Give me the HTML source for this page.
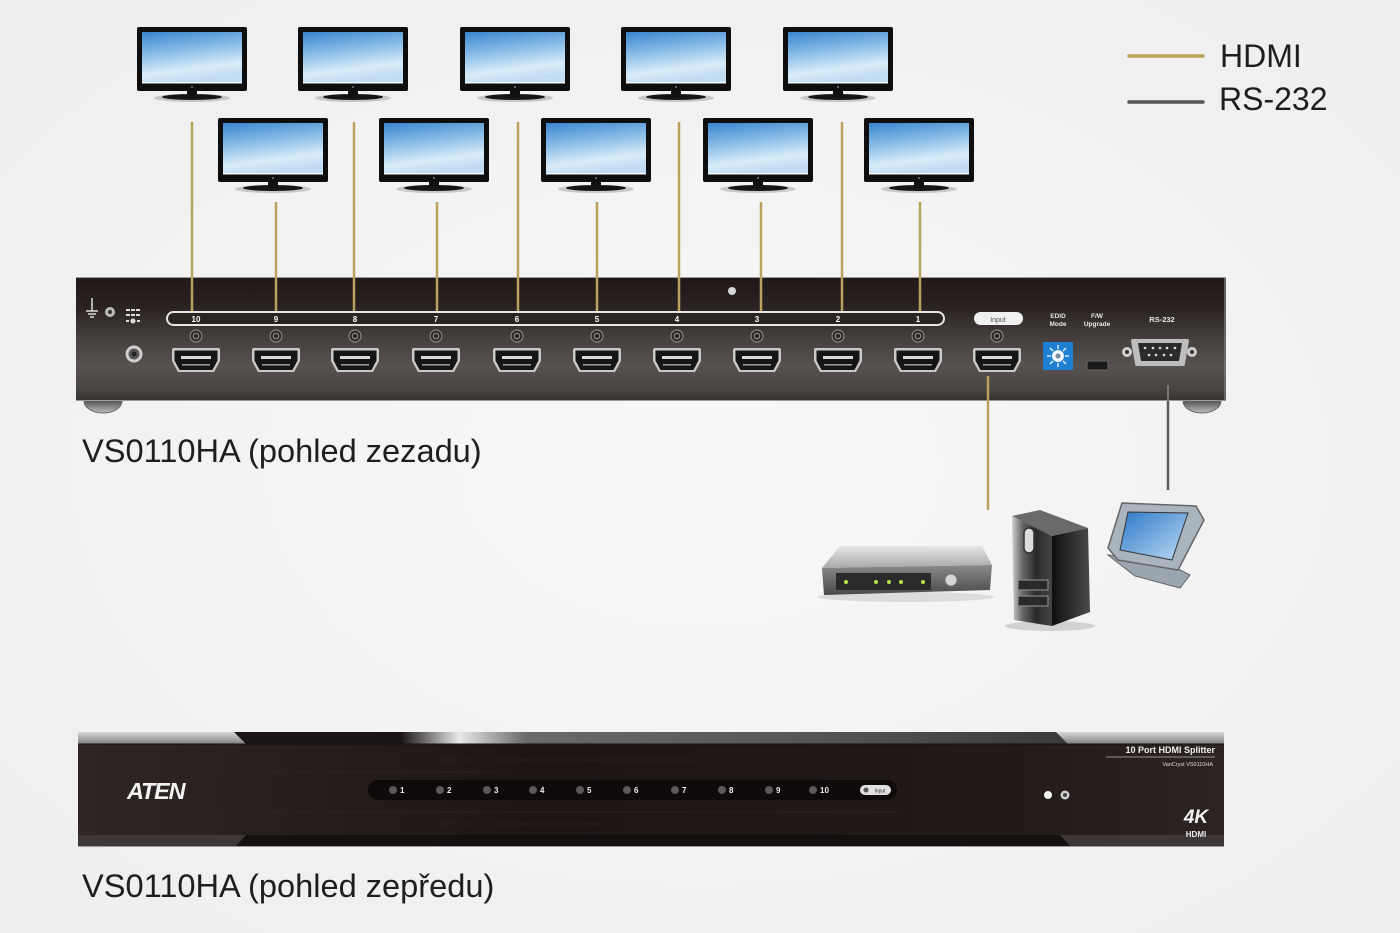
<!DOCTYPE html>
<html><head><meta charset="utf-8"><style>
html,body{margin:0;padding:0;width:1400px;height:933px;overflow:hidden;background:#f2f2f2}
svg{display:block}
</style></head><body>
<svg width="1400" height="933" viewBox="0 0 1400 933" xmlns="http://www.w3.org/2000/svg" font-family="'Liberation Sans', Arial, sans-serif">
<defs>
<radialGradient id="bg" cx="0.5" cy="0.5" r="0.75"><stop offset="0" stop-color="#f8f8f8"/><stop offset="1" stop-color="#ededed"/></radialGradient>
<linearGradient id="scr" x1="0" y1="0" x2="0.25" y2="1"><stop offset="0" stop-color="#3a85cf"/><stop offset="0.45" stop-color="#8dbfe8"/><stop offset="0.8" stop-color="#d9ecf9"/><stop offset="1" stop-color="#c2ddf3"/></linearGradient>
<linearGradient id="rear" x1="0" y1="0" x2="0" y2="1">
 <stop offset="0" stop-color="#1f1817"/><stop offset="0.25" stop-color="#2a2321"/><stop offset="0.5" stop-color="#45403e"/><stop offset="0.72" stop-color="#57524f"/><stop offset="0.9" stop-color="#4a4644"/><stop offset="1" stop-color="#353130"/></linearGradient>
<linearGradient id="front" x1="0" y1="0" x2="1" y2="0">
 <stop offset="0" stop-color="#2f2624"/><stop offset="0.4" stop-color="#1d1615"/><stop offset="0.8" stop-color="#221a19"/><stop offset="1" stop-color="#2c2422"/></linearGradient>
<linearGradient id="topstrip" x1="0" y1="0" x2="0" y2="1"><stop offset="0" stop-color="#d8d8d8"/><stop offset="1" stop-color="#7a7a7a"/></linearGradient>
<linearGradient id="midstrip" x1="0" y1="0" x2="1" y2="0">
 <stop offset="0" stop-color="#1a1414"/><stop offset="0.2" stop-color="#1a1414"/><stop offset="0.27" stop-color="#e8e8e8"/><stop offset="0.35" stop-color="#6a6a6a"/><stop offset="0.7" stop-color="#555"/><stop offset="1" stop-color="#3a3a3a"/></linearGradient>
<linearGradient id="foot" x1="0" y1="0" x2="0" y2="1"><stop offset="0" stop-color="#555"/><stop offset="1" stop-color="#bdbdbd"/></linearGradient>
<linearGradient id="stbTop" x1="0" y1="0" x2="0" y2="1"><stop offset="0" stop-color="#e6e6e6"/><stop offset="1" stop-color="#a9a9a9"/></linearGradient>
<linearGradient id="stbFront" x1="0" y1="0" x2="0" y2="1"><stop offset="0" stop-color="#8a8a8a"/><stop offset="1" stop-color="#4a4a4a"/></linearGradient>
<linearGradient id="twFront" x1="0" y1="0" x2="1" y2="0"><stop offset="0" stop-color="#d0d0d0"/><stop offset="0.25" stop-color="#6a6a6a"/><stop offset="0.6" stop-color="#2a2a2a"/><stop offset="1" stop-color="#444"/></linearGradient>
<linearGradient id="twSide" x1="0" y1="0" x2="1" y2="0"><stop offset="0" stop-color="#0f0f0f"/><stop offset="1" stop-color="#4a4a4a"/></linearGradient>
<linearGradient id="tabScr" x1="0" y1="0" x2="1" y2="1"><stop offset="0" stop-color="#2f78c8"/><stop offset="1" stop-color="#bcdcf4"/></linearGradient>
<g id="mon">
 <ellipse cx="55" cy="71" rx="38" ry="4" fill="#777" opacity="0.35"/>
 <ellipse cx="55" cy="70" rx="30" ry="3" fill="#151515"/>
 <rect x="50" y="62" width="10" height="8" fill="#111"/>
 <rect x="0" y="0" width="110" height="64" rx="2" fill="#0e0e0e"/>
 <rect x="5" y="5" width="100" height="51" fill="url(#scr)"/>
 <rect x="5" y="55" width="100" height="1.5" fill="#f4f9fd"/>
 <circle cx="55" cy="60" r="1" fill="#777"/>
</g>
<g id="port">
 <path d="M-24,-10 Q-24,-12 -22,-12 H22 Q24,-12 24,-10 V1 L18,12 H-18 L-24,1 Z" fill="#c9c9c9"/>
 <path d="M-21.5,-9.5 H21.5 V0.5 L16.5,10 H-16.5 L-21.5,0.5 Z" fill="#151515"/>
 <rect x="-15" y="-4" width="30" height="3" fill="#d8d8d8"/>
 <rect x="-14" y="4" width="28" height="1.6" fill="#9a9a9a"/>
</g>
<g id="screw">
 <circle r="6" fill="#2e2a29" stroke="#8a8685" stroke-width="1.2"/>
 <circle r="2.8" fill="none" stroke="#9a9695" stroke-width="1"/>
</g>
</defs>

<rect width="1400" height="933" fill="url(#bg)"/>

<!-- Legend -->
<line x1="1129" y1="56" x2="1203" y2="56" stroke="#b9a15e" stroke-width="3.5" stroke-linecap="round"/>
<line x1="1129" y1="102" x2="1203" y2="102" stroke="#555" stroke-width="3.5" stroke-linecap="round"/>
<text x="1220" y="67" font-size="32" fill="#1e1e1e">HDMI</text>
<text x="1219" y="110" font-size="32" fill="#1e1e1e">RS-232</text>

<!-- HDMI lines to monitors -->
<g stroke="#b9a15e" stroke-width="2.5">
 <line x1="192" y1="122" x2="192" y2="312"/>
 <line x1="354" y1="122" x2="354" y2="312"/>
 <line x1="518" y1="122" x2="518" y2="312"/>
 <line x1="679" y1="122" x2="679" y2="312"/>
 <line x1="842" y1="122" x2="842" y2="312"/>
 <line x1="276" y1="202" x2="276" y2="312"/>
 <line x1="437" y1="202" x2="437" y2="312"/>
 <line x1="597" y1="202" x2="597" y2="312"/>
 <line x1="761" y1="202" x2="761" y2="312"/>
 <line x1="920" y1="202" x2="920" y2="312"/>
 <line x1="988" y1="376" x2="988" y2="510"/>
</g>
<line x1="1168" y1="385" x2="1168" y2="490" stroke="#5a5a5a" stroke-width="2.5"/>

<!-- Monitors -->
<use href="#mon" x="137" y="27"/>
<use href="#mon" x="298" y="27"/>
<use href="#mon" x="460" y="27"/>
<use href="#mon" x="621" y="27"/>
<use href="#mon" x="783" y="27"/>
<use href="#mon" x="218" y="118"/>
<use href="#mon" x="379" y="118"/>
<use href="#mon" x="541" y="118"/>
<use href="#mon" x="703" y="118"/>
<use href="#mon" x="864" y="118"/>

<!-- Rear panel -->
<path d="M84,401 a19,12 0 0 0 38,0 Z" fill="url(#foot)" stroke="#666" stroke-width="1"/>
<path d="M1183,401 a19,12 0 0 0 38,0 Z" fill="url(#foot)" stroke="#666" stroke-width="1"/>
<rect x="76" y="277" width="1150" height="124" rx="2" fill="url(#rear)"/>
<line x1="76" y1="277.5" x2="1226" y2="277.5" stroke="#9a9a9a" stroke-width="1"/>
<line x1="76" y1="400.5" x2="1226" y2="400.5" stroke="#9a9a9a" stroke-width="1"/>
<line x1="1225" y1="278" x2="1225" y2="400" stroke="#777" stroke-width="1.5"/>
<g stroke="#b9a15e" stroke-width="2.5">
 <line x1="192" y1="277" x2="192" y2="312"/><line x1="276" y1="277" x2="276" y2="312"/>
 <line x1="354" y1="277" x2="354" y2="312"/><line x1="437" y1="277" x2="437" y2="312"/>
 <line x1="518" y1="277" x2="518" y2="312"/><line x1="597" y1="277" x2="597" y2="312"/>
 <line x1="679" y1="277" x2="679" y2="312"/><line x1="761" y1="277" x2="761" y2="312"/>
 <line x1="842" y1="277" x2="842" y2="312"/><line x1="920" y1="277" x2="920" y2="312"/>
 <line x1="988" y1="376" x2="988" y2="401"/>
</g>
<line x1="1168" y1="385" x2="1168" y2="401" stroke="#8a8a8a" stroke-width="1.5"/>

<!-- left icons -->
<g stroke="#ddd" stroke-width="1.5" fill="none">
 <line x1="92" y1="298" x2="92" y2="311"/>
 <line x1="86" y1="311" x2="98" y2="311"/>
 <line x1="88" y1="314" x2="96" y2="314"/>
 <line x1="90" y1="317" x2="94" y2="317"/>
</g>
<circle cx="110" cy="312" r="5" fill="#bbb"/><circle cx="110" cy="312" r="2" fill="#333"/>
<g fill="#ddd">
 <rect x="126" y="309" width="4" height="2"/><rect x="131" y="309" width="4" height="2"/><rect x="136" y="309" width="4" height="2"/>
 <rect x="126" y="314" width="4" height="2"/><rect x="131" y="314" width="4" height="2"/><rect x="136" y="314" width="4" height="2"/>
 <rect x="126" y="320" width="3" height="2"/><circle cx="133" cy="321" r="2.5"/><rect x="137" y="320" width="3" height="2"/>
</g>
<circle cx="134" cy="354" r="8.5" fill="#cfcfcf"/><circle cx="134" cy="354" r="5.5" fill="#5a5655"/><circle cx="134" cy="354" r="2.5" fill="#222"/>
<circle cx="732" cy="291" r="4" fill="#d8d8d8"/>

<!-- label bar -->
<rect x="167" y="312" width="777" height="13" rx="6.5" fill="#2a2523" stroke="#e6e6e6" stroke-width="2"/>
<g font-size="8" font-weight="bold" fill="#fff" text-anchor="middle">
 <text x="196" y="322">10</text><text x="276" y="322">9</text><text x="355" y="322">8</text>
 <text x="436" y="322">7</text><text x="517" y="322">6</text><text x="597" y="322">5</text>
 <text x="677" y="322">4</text><text x="757" y="322">3</text><text x="838" y="322">2</text>
 <text x="918" y="322">1</text>
</g>
<rect x="974" y="312" width="49" height="13" rx="6.5" fill="#f0f0f0"/>
<text x="998" y="322" font-size="7" fill="#555" text-anchor="middle">Input</text>

<!-- screws + ports -->
<use href="#screw" x="196" y="336"/><use href="#screw" x="276" y="336"/><use href="#screw" x="355" y="336"/>
<use href="#screw" x="436" y="336"/><use href="#screw" x="517" y="336"/><use href="#screw" x="597" y="336"/>
<use href="#screw" x="677" y="336"/><use href="#screw" x="757" y="336"/><use href="#screw" x="838" y="336"/>
<use href="#screw" x="918" y="336"/><use href="#screw" x="997" y="336"/>
<use href="#port" x="196" y="360"/><use href="#port" x="276" y="360"/><use href="#port" x="355" y="360"/>
<use href="#port" x="436" y="360"/><use href="#port" x="517" y="360"/><use href="#port" x="597" y="360"/>
<use href="#port" x="677" y="360"/><use href="#port" x="757" y="360"/><use href="#port" x="838" y="360"/>
<use href="#port" x="918" y="360"/><use href="#port" x="997" y="360"/>

<!-- EDID / FW / RS232 -->
<g font-size="6.5" font-weight="bold" fill="#e8e8e8" text-anchor="middle">
 <text x="1058" y="318">EDID</text><text x="1058" y="326">Mode</text>
 <text x="1097" y="318">F/W</text><text x="1097" y="326">Upgrade</text>
 <text x="1162" y="322" font-size="7.5">RS-232</text>
</g>
<rect x="1043" y="342" width="30" height="28" fill="#1f7fd1"/>
<circle cx="1058" cy="356" r="6" fill="#eef6fd"/>
<g stroke="#eef6fd" stroke-width="1.3">
 <line x1="1058" y1="345" x2="1058" y2="349"/><line x1="1058" y1="363" x2="1058" y2="367"/>
 <line x1="1047" y1="356" x2="1051" y2="356"/><line x1="1065" y1="356" x2="1069" y2="356"/>
 <line x1="1050" y1="348" x2="1053" y2="351"/><line x1="1063" y1="361" x2="1066" y2="364"/>
 <line x1="1066" y1="348" x2="1063" y2="351"/><line x1="1050" y1="364" x2="1053" y2="361"/>
</g>
<circle cx="1058" cy="356" r="2.5" fill="#7a8a99"/>
<rect x="1087" y="361" width="21" height="9" rx="2" fill="#1a1a1a" stroke="#666" stroke-width="1"/>
<circle cx="1127" cy="352" r="5" fill="#cfcfcf"/><circle cx="1127" cy="352" r="2" fill="#333"/>
<circle cx="1192" cy="352" r="5" fill="#cfcfcf"/><circle cx="1192" cy="352" r="2" fill="#333"/>
<path d="M1133,339 H1187 Q1189,339 1189,341 L1185,364 Q1185,366 1183,366 H1137 Q1135,366 1135,364 L1131,341 Q1131,339 1133,339 Z" fill="#bdbdbd"/>
<path d="M1138,343 H1182 L1179,361 H1141 Z" fill="#2a2a2a"/>
<g fill="#ddd">
 <circle cx="1145" cy="348" r="1.3"/><circle cx="1153" cy="348" r="1.3"/><circle cx="1160" cy="348" r="1.3"/><circle cx="1167" cy="348" r="1.3"/><circle cx="1175" cy="348" r="1.3"/>
 <circle cx="1149" cy="355" r="1.3"/><circle cx="1156" cy="355" r="1.3"/><circle cx="1164" cy="355" r="1.3"/><circle cx="1171" cy="355" r="1.3"/>
</g>

<text x="82" y="462" font-size="32.6" fill="#1e1e1e">VS0110HA (pohled zezadu)</text>

<!-- Devices -->
<ellipse cx="906" cy="597" rx="88" ry="5" fill="#ccc" opacity="0.6"/>
<path d="M840,546 H982 L992,565 L822,568 Z" fill="url(#stbTop)"/>
<path d="M822,568 L992,565 L990,590 L824,595 Z" fill="url(#stbFront)"/>
<rect x="836" y="573" width="95" height="17" fill="#2a2a2a"/>
<g fill="#b8e64a"><circle cx="846" cy="582" r="2"/><circle cx="876" cy="582" r="2"/><circle cx="889" cy="582" r="2"/><circle cx="901" cy="582" r="2"/><circle cx="923" cy="582" r="2"/></g>
<circle cx="951" cy="580" r="6" fill="#d4d4d4" stroke="#777" stroke-width="1"/>
<ellipse cx="1050" cy="626" rx="45" ry="5" fill="#bbb" opacity="0.6"/>
<path d="M1012,516 L1040,510 L1088,528 L1052,536 Z" fill="#6a6a6a"/>
<path d="M1052,536 L1088,528 L1090,612 L1052,626 Z" fill="url(#twSide)"/>
<path d="M1012,516 L1052,536 L1052,626 L1014,620 Z" fill="url(#twFront)"/>
<rect x="1024" y="528" width="10" height="25" rx="5" fill="#ddd" stroke="#333" stroke-width="1.5"/>
<rect x="1018" y="580" width="30" height="10" fill="#2a2a2a" stroke="#999" stroke-width="1"/>
<rect x="1018" y="596" width="30" height="10" fill="#2a2a2a" stroke="#999" stroke-width="1"/>
<path d="M1108,555 L1135,576 L1180,588 L1190,575 L1165,562 Z" fill="#9aa5b0" stroke="#666" stroke-width="1"/>
<path d="M1122,503 L1196,506 L1204,520 L1178,570 L1118,560 L1108,548 Z" fill="#a9b4bf" stroke="#666" stroke-width="1.5"/>
<path d="M1128,512 L1188,513 L1172,560 L1120,550 Z" fill="url(#tabScr)" stroke="#333" stroke-width="1"/>

<!-- Front panel -->
<rect x="78" y="732" width="1146" height="13" fill="url(#topstrip)"/>
<path d="M234,732 H1056 L1068,744 H246 Z" fill="url(#midstrip)"/>
<rect x="78" y="744" width="1146" height="91" fill="url(#front)"/>
<rect x="78" y="835" width="1146" height="12" fill="#3d3737"/>
<path d="M246,835 H1060 L1070,846 H236 Z" fill="#141010"/>
<line x1="78" y1="846.5" x2="1224" y2="846.5" stroke="#9a9a9a" stroke-width="1"/>
<line x1="78" y1="744" x2="1224" y2="744" stroke="#111" stroke-width="1"/>
<g stroke="#2f2827" stroke-width="1" opacity="0.6">
 <line x1="80" y1="760" x2="700" y2="760"/><line x1="80" y1="772" x2="500" y2="772"/>
 <line x1="120" y1="812" x2="900" y2="812"/><line x1="80" y1="824" x2="600" y2="824"/>
</g>
<text x="127" y="799" font-size="23.5" font-weight="bold" font-style="italic" fill="#f2f2f2" letter-spacing="-1.2">ATEN</text>
<rect x="368" y="780" width="529" height="20" rx="10" fill="#0e0a0a"/>
<g fill="#5d5858">
 <circle cx="393" cy="790" r="4"/><circle cx="440" cy="790" r="4"/><circle cx="487" cy="790" r="4"/>
 <circle cx="533" cy="790" r="4"/><circle cx="580" cy="790" r="4"/><circle cx="627" cy="790" r="4"/>
 <circle cx="675" cy="790" r="4"/><circle cx="722" cy="790" r="4"/><circle cx="769" cy="790" r="4"/>
 <circle cx="813" cy="790" r="4"/>
</g>
<g font-size="8" font-weight="bold" fill="#eee">
 <text x="400" y="793">1</text><text x="447" y="793">2</text><text x="494" y="793">3</text>
 <text x="540" y="793">4</text><text x="587" y="793">5</text><text x="634" y="793">6</text>
 <text x="682" y="793">7</text><text x="729" y="793">8</text><text x="776" y="793">9</text>
 <text x="820" y="793">10</text>
</g>
<rect x="860" y="785" width="31" height="10" rx="5" fill="#e0e0e0"/>
<circle cx="866" cy="790" r="2.5" fill="#555"/>
<text x="880" y="792.5" font-size="5" fill="#333" text-anchor="middle">Input</text>

<text x="1215" y="753" font-size="9" font-weight="bold" fill="#f0f0f0" text-anchor="end">10 Port HDMI Splitter</text>
<line x1="1106" y1="757" x2="1215" y2="757" stroke="#bbb" stroke-width="0.8"/>
<text x="1213" y="766" font-size="5.5" fill="#ddd" text-anchor="end">VanCryst VS0110HA</text>
<circle cx="1048" cy="795" r="4" fill="#f2f2f2"/>
<circle cx="1065" cy="795" r="4.5" fill="#cfcfcf"/><circle cx="1065" cy="795" r="2" fill="#444"/>
<text x="1196" y="823" font-size="19" font-weight="bold" font-style="italic" fill="#f4f4f4" text-anchor="middle">4K</text>
<text x="1196" y="837" font-size="8" font-weight="bold" fill="#eee" text-anchor="middle">HDMI</text>

<text x="82" y="897" font-size="32.6" fill="#1e1e1e">VS0110HA (pohled zepředu)</text>
</svg>
</body></html>
